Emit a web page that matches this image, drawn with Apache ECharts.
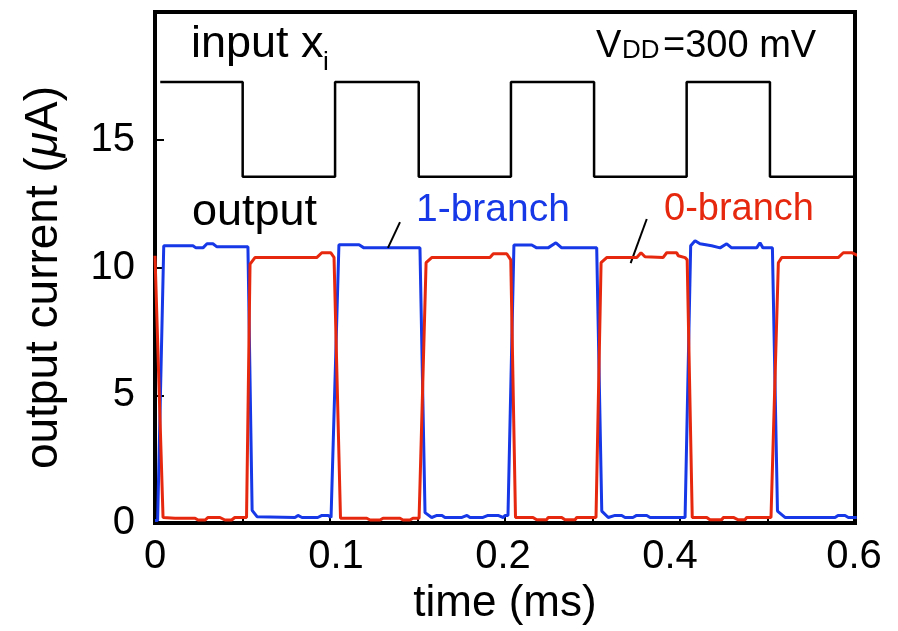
<!DOCTYPE html>
<html>
<head>
<meta charset="utf-8">
<style>
  html, body { margin: 0; padding: 0; background: #fff; }
  #chart { width: 898px; height: 631px; }
</style>
<script src="https://cdn.jsdelivr.net/npm/echarts@6/dist/echarts.min.js"></script>
</head>
<body>
<div id="chart"></div>
<script>
// time axis ticks every 0.05; every other tick carries a label
const xTickLabels = ['0', '0.1', '0.2', '0.4', '0.6'];
const yTicks = [0, 5, 10, 15];

// input x_i square wave: [time, level]
const inputWave = [
  [0.003, 17.26], [0.0501, 17.26], [0.0501, 13.55], [0.1029, 13.55],
  [0.1029, 17.26], [0.1507, 17.26], [0.1507, 13.55], [0.2034, 13.55],
  [0.2034, 17.26], [0.2509, 17.26], [0.2509, 13.55], [0.3038, 13.55],
  [0.3038, 17.26], [0.3514, 17.26], [0.3514, 13.55], [0.402, 13.55]
];

// 1-branch output current (µA)
const oneBranch = [
  [0.000, 0.10], [0.0015, 0.10], [0.0050, 10.85], [0.0217, 10.85], [0.0234, 10.77], [0.0274, 10.77],
  [0.0297, 10.93], [0.0331, 10.93], [0.0354, 10.81], [0.0531, 10.81],
  [0.0555, 0.50], [0.0583, 0.25], [0.0800, 0.22], [0.0817, 0.30], [0.0840, 0.22], [0.0930, 0.22],
  [0.0954, 0.30], [0.0990, 0.30], [0.1006, 0.22], [0.1017, 0.22],
  [0.1051, 10.89], [0.1166, 10.89], [0.1194, 10.77], [0.1514, 10.77],
  [0.1543, 0.41], [0.1581, 0.22], [0.1611, 0.30], [0.1640, 0.30], [0.1657, 0.22], [0.1754, 0.22],
  [0.1783, 0.30], [0.1800, 0.22], [0.1874, 0.22], [0.1903, 0.30], [0.1960, 0.30], [0.1990, 0.22],
  [0.2000, 0.30], [0.2017, 0.30],
  [0.2051, 10.88], [0.2153, 10.88], [0.2181, 10.77], [0.2246, 10.77], [0.2291, 10.97], [0.2324, 10.77],
  [0.2524, 10.77],
  [0.2553, 0.47], [0.2590, 0.22], [0.2629, 0.30], [0.2667, 0.30], [0.2686, 0.22], [0.2731, 0.22],
  [0.2752, 0.30], [0.2810, 0.30], [0.2829, 0.22], [0.3029, 0.22],
  [0.3061, 10.85], [0.3086, 11.05], [0.3114, 10.93], [0.3181, 10.85], [0.3229, 10.77], [0.3267, 10.93],
  [0.3295, 10.77], [0.3438, 10.77], [0.3457, 10.97], [0.3474, 10.77], [0.3528, 10.77],
  [0.3557, 0.47], [0.3600, 0.22], [0.3886, 0.22], [0.3903, 0.30], [0.3943, 0.30], [0.3962, 0.22],
  [0.4010, 0.22]
];

// 0-branch output current (µA)
const zeroBranch = [
  [0.0000, 10.46], [0.0046, 0.22], [0.0114, 0.19], [0.0229, 0.19], [0.0246, 0.12], [0.0286, 0.12],
  [0.0303, 0.22], [0.0371, 0.22], [0.0400, 0.12], [0.0438, 0.12], [0.0456, 0.22], [0.0523, 0.22],
  [0.0543, 10.13], [0.0571, 10.39], [0.0924, 10.39], [0.0953, 10.58], [0.1004, 10.58], [0.1023, 10.40],
  [0.1060, 0.19], [0.1210, 0.19], [0.1229, 0.12], [0.1286, 0.12], [0.1303, 0.19], [0.1400, 0.19],
  [0.1417, 0.12], [0.1457, 0.12], [0.1474, 0.19], [0.1509, 0.19],
  [0.1549, 10.19], [0.1581, 10.39], [0.1914, 10.39], [0.1933, 10.54], [0.2010, 10.54], [0.2033, 10.30],
  [0.2060, 0.22], [0.2160, 0.22], [0.2181, 0.13], [0.2238, 0.13], [0.2246, 0.22], [0.2324, 0.22],
  [0.2343, 0.13], [0.2400, 0.13], [0.2410, 0.22], [0.2520, 0.22],
  [0.2549, 10.19], [0.2581, 10.39], [0.2753, 10.39], [0.2777, 10.58], [0.2800, 10.42], [0.2903, 10.39],
  [0.2924, 10.58], [0.2981, 10.58], [0.2990, 10.46], [0.3029, 10.39], [0.3041, 10.30],
  [0.3070, 0.22], [0.3153, 0.22], [0.3171, 0.13], [0.3238, 0.13], [0.3248, 0.22], [0.3305, 0.22],
  [0.3333, 0.13], [0.3371, 0.13], [0.3381, 0.22], [0.3520, 0.22],
  [0.3562, 10.19], [0.3581, 10.39], [0.3904, 10.39], [0.3933, 10.58], [0.3981, 10.58], [0.4019, 10.46]
];

// leader lines from the branch labels to their traces
const oneLeader = [[0.1331, 10.77], [0.1400, 11.78]];
const zeroLeader = [[0.2718, 10.17], [0.2810, 11.90]];

const FONT = '"Liberation Sans", Arial, Helvetica, sans-serif';
const BLUE = '#1638e6';
const RED = '#e6280f';

// horizontal nudge (px) for each labelled time tick
const xLabelNudge = [0, 6, -2, -10, -1];
const xLabelRich = {};
xLabelNudge.forEach(function (d, i) {
  xLabelRich['t' + i] = {
    fontFamily: FONT, fontSize: 40, color: '#000',
    padding: d >= 0 ? [0, 0, 0, 2 * d] : [0, -2 * d, 0, 0]
  };
});

const chart = echarts.init(document.getElementById('chart'), null, { renderer: 'canvas' });

function leader(pts) {
  return {
    silent: true,
    symbol: 'none',
    label: { show: false },
    lineStyle: { color: '#000', width: 2, type: 'solid' },
    data: [[{ coord: pts[0] }, { coord: pts[1] }]]
  };
}

chart.setOption({
  animation: false,
  backgroundColor: '#fff',
  grid: {
    left: 155, right: 43, top: 12, bottom: 102,
    show: true, borderColor: '#000', borderWidth: 4, backgroundColor: 'transparent'
  },
  xAxis: {
    type: 'value',
    min: 0, max: 0.4, interval: 0.05,
    name: 'time (ms)',
    nameLocation: 'middle',
    nameGap: 58,
    nameTextStyle: { fontFamily: FONT, fontSize: 44, color: '#000' },
    axisLine: { show: true, lineStyle: { color: '#000', width: 4 } },
    axisTick: { show: true, inside: true, length: 6, lineStyle: { color: '#000', width: 2 } },
    splitLine: { show: false },
    axisLabel: {
      fontFamily: FONT, fontSize: 40, color: '#000', margin: 14,
      rich: xLabelRich,
      formatter: function (v) {
        const k = Math.round(v / 0.05);
        if (k % 2 !== 0 || !xTickLabels[k / 2]) return '';
        return '{t' + (k / 2) + '|' + xTickLabels[k / 2] + '}';
      }
    }
  },
  yAxis: {
    type: 'value',
    min: 0, max: 20, interval: 5,
    name: '{n|output current (}{m|μ}{e|A)}',
    nameLocation: 'middle',
    nameRotate: 90,
    nameGap: 88,
    nameTextStyle: {
      rich: {
        n: { fontFamily: FONT, fontSize: 46, color: '#000' },
        m: { fontFamily: FONT, fontSize: 46, color: '#000', fontStyle: 'italic' },
        e: { fontFamily: FONT, fontSize: 46, color: '#000', padding: [0, 20, 0, 0] }
      }
    },
    axisLine: { show: true, lineStyle: { color: '#000', width: 4 } },
    axisTick: { show: true, inside: true, length: 9, lineStyle: { color: '#000', width: 2 } },
    splitLine: { show: false },
    axisLabel: {
      fontFamily: FONT, fontSize: 40, color: '#000', margin: 20,
      showMaxLabel: false,
      formatter: function (v) { return yTicks.indexOf(v) >= 0 ? String(v) : ''; }
    }
  },
  series: [
    {
      name: 'input',
      type: 'line',
      data: inputWave,
      symbol: 'none',
      clip: false,
      lineStyle: { color: '#000', width: 2.5 },
      z: 3
    },
    {
      name: '1-branch',
      type: 'line',
      data: oneBranch,
      symbol: 'none',
      clip: false,
      lineStyle: { color: BLUE, width: 3 },
      markLine: leader(oneLeader),
      z: 4
    },
    {
      name: '0-branch',
      type: 'line',
      data: zeroBranch,
      symbol: 'none',
      clip: false,
      lineStyle: { color: RED, width: 3 },
      markLine: leader(zeroLeader),
      z: 5
    }
  ],
  graphic: [
    { type: 'text', left: 191, top: 22, style: { text: 'input x', font: '45px ' + FONT, fill: '#000' } },
    { type: 'text', left: 323, top: 50, style: { text: 'i', font: '26px ' + FONT, fill: '#000' } },
    { type: 'text', left: 596, top: 28, style: { text: 'V', font: '38px ' + FONT, fill: '#000' } },
    { type: 'text', left: 622, top: 38, style: { text: 'DD', font: '26px ' + FONT, fill: '#000' } },
    { type: 'text', left: 663, top: 28, style: { text: '=300 mV', font: '38px ' + FONT, fill: '#000' } },
    { type: 'text', left: 192, top: 190, style: { text: 'output', font: '45px ' + FONT, fill: '#000' } },
    { type: 'text', left: 416, top: 191, style: { text: '1-branch', font: '39px ' + FONT, fill: BLUE } },
    { type: 'text', left: 664, top: 191, style: { text: '0-branch', font: '38px ' + FONT, fill: RED } }
  ]
});
</script>
</body>
</html>
